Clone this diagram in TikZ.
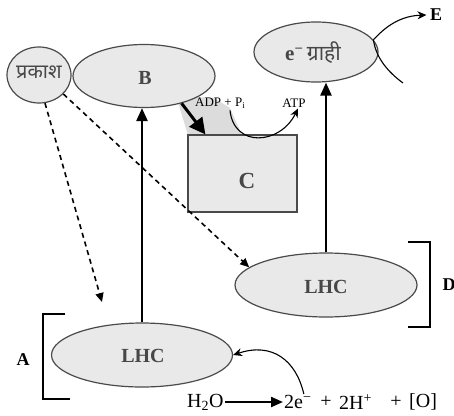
\documentclass[tikz,border=0pt]{standalone}
\usepackage{fontspec}
\setmainfont{Liberation Serif}
\newfontfamily\dev[Script=Devanagari]{Noto Sans}
\usetikzlibrary{arrows.meta,shapes.geometric,calc}
\definecolor{efill}{HTML}{E9E9E9}
\definecolor{eline}{HTML}{4A4A4A}
\definecolor{tgray}{HTML}{474747}
\tikzset{
  oval/.style={ellipse,draw=eline,fill=efill,line width=1.2pt,inner sep=0pt},
  bigtip/.style={-{Triangle[length=13pt,width=11pt]},line width=2.4pt},
  dasharrow/.style={-{Triangle[length=9pt,width=8pt]},line width=1.6pt,dash pattern=on 5pt off 4pt},
  thinarrow/.style={-{Stealth[length=9pt,width=8pt]},line width=1.1pt},
  lbl/.style={font=\bfseries\fontsize{18}{20}\selectfont},
  eq/.style={font=\fontsize{20}{22}\selectfont,inner sep=1pt},
}
\begin{document}
\begin{tikzpicture}[x=1pt,y=-1pt]
\useasboundingbox (0,0) rectangle (454,415);
% gray area between B and C
\fill[efill!88!gray] (176,96) -- (188,135) -- (242,135) -- (230,108) -- (214,98) -- cycle;
% nodes
\node[oval,minimum width=64pt,minimum height=56pt] (pr) at (39,75) {};
\node[font=\dev\bfseries\fontsize{20}{22}\selectfont,text=tgray] at (39,72) {प्रकाश};
\node[oval,minimum width=142pt,minimum height=63pt] (B) at (144,76) {};
\node[font=\bfseries\fontsize{20}{22}\selectfont,text=tgray] at (145,78) {B};
\node[oval,minimum width=124pt,minimum height=60pt] (eg) at (316,52) {};
\node[text=tgray] at (313,53) {\fontsize{21}{23}\selectfont\bfseries e\textsuperscript{−}\,{\dev ग्राही}};
\node[rectangle,draw=eline,fill=efill,line width=1.2pt,minimum width=109pt,minimum height=77pt] (C) at (242.5,173.5) {};
\node[font=\bfseries\fontsize{23}{25}\selectfont,text=tgray] at (247,181) {C};
\node[oval,minimum width=182pt,minimum height=64pt] (lr) at (326,285) {};
\node[font=\bfseries\fontsize{20}{22}\selectfont,text=tgray] at (326,287) {LHC};
\node[oval,minimum width=181pt,minimum height=64pt] (ll) at (142,355) {};
\node[font=\bfseries\fontsize{20}{22}\selectfont,text=tgray] at (143,356) {LHC};
% small labels
\node[font=\fontsize{13}{15}\selectfont,inner sep=1pt,anchor=west] (adp) at (194,103) {ADP + P\textsubscript{i}};
\node[font=\fontsize{13}{15}\selectfont,inner sep=1pt] (atp) at (294,103) {ATP};
\node[lbl] (E) at (436,15) {E};
\node[lbl] (A) at (23,360) {A};
\node[lbl] (D) at (449,285) {D};
\node[eq,anchor=west] (h2o) at (186,402) {H\textsubscript{2}O};
\node[eq,anchor=west] (e2) at (283,402) {2e\textsuperscript{−}};
\node[eq] (p1) at (326,402) {+};
\node[eq,anchor=west] (h2) at (338,402) {2H\textsuperscript{+}};
\node[eq] (p2) at (396,402) {+};
\node[eq,anchor=west] (o) at (408,402) {[O]};
% connectors
\draw[bigtip] (ll.north) -- (ll.north |- B.south);
\draw[bigtip] (lr.north) -- (lr.north |- eg.south);
\draw[-{Triangle[length=16pt,width=16pt]},line width=3pt] (B.-36) -- ($(C.north west)+(18,0)$);
\draw[thinarrow] ($(adp.south west)+(36,1)$) .. controls (234,148) and (280,145) .. ($(atp.south)+(4,0)$);
\draw[dasharrow] (pr.-78) -- coordinate[pos=1] (dA) (102,302);
\draw[dasharrow] (pr.-38) -- (lr.167);
\draw[line width=1.1pt] (403,83) .. controls (388,72) and (376,58) .. (eg.12);
\draw[thinarrow] (eg.12) .. controls (380,33) and (395,16) .. (E.west);
\draw[-{Triangle[length=12pt,width=10pt]},line width=2.2pt] (h2o.east) -- (e2.west);
\draw[thinarrow] ($(e2.north)+(6,0)$) .. controls (296,360) and (272,342) .. (ll.east);
% brackets
\draw[line width=1.3pt] (65,314) -- (43,314) -- (43,399) -- (70,399);
\draw[line width=1.3pt] (408,242) -- (430,242) -- (430,327) -- (408,327);
\end{tikzpicture}
\end{document}
